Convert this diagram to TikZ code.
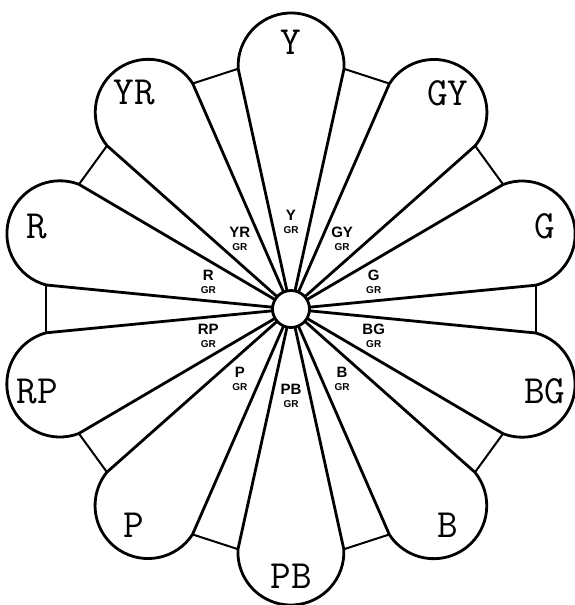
\documentclass[tikz,border=0pt]{standalone}
\usepackage{fontspec}
\setmainfont{Liberation Sans}
\usetikzlibrary{calc}

\tikzset{
  petal/.style={line width=2.8pt, line join=round},
  ring/.style={line width=2pt},
  hue/.style={font=\ttfamily\fontsize{40}{40}\selectfont, inner sep=0pt},
  hub/.style={font=\bfseries\fontsize{15}{13}\selectfont, align=center, inner sep=0pt},
  hubring/.style={draw, circle, line width=2.8pt, minimum size=37pt, fill=white, inner sep=0pt}
}

\begin{document}
\begin{tikzpicture}[x=1pt,y=1pt]
  \useasboundingbox (-291,-296) rectangle (283,309);
  % petals, one per hue
  \foreach \name/\ang in {Y/90,GY/54,G/18,BG/-18,B/-54,PB/-90,P/-126,RP/-162,R/162,YR/126}{
    \coordinate (\name-l) at (\ang+12.4:246);
    \coordinate (\name-r) at (\ang-12.4:246);
    \draw[petal] (\ang+12.4:19) -- (\name-l)
      arc[start angle=\ang+93, end angle=\ang-93, radius=53] -- (\ang-12.4:19);
    \node[hue] (\name) at (\ang:267) {\name};
    \node[hub] (\name-gr) at (\ang:87) {\name\\{\fontsize{10}{13}\selectfont GR}};
  }
  % outer ring between petals
  \foreach \a/\b in {Y/GY,GY/G,G/BG,BG/B,B/PB,PB/P,P/RP,RP/R,R/YR,YR/Y}
    \draw[ring] (\a-r) -- (\b-l);
  \node[hubring] (hub) at (0,0) {};
\end{tikzpicture}
\end{document}
